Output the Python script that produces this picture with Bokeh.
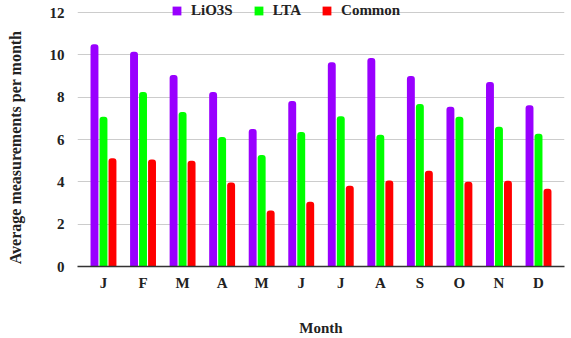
from bokeh.plotting import figure
from bokeh.models import ColumnDataSource, Range1d, FixedTicker, Legend, LegendItem
from bokeh.transform import dodge
from bokeh.embed import file_html
from bokeh.resources import INLINE

months = ["J", "F", "M", "A", "M", "J", "J", "A", "S", "O", "N", "D"]
lio3s = [10.5, 10.15, 9.05, 8.25, 6.5, 7.82, 9.65, 9.85, 9.0, 7.55, 8.72, 7.62]
lta = [7.07, 8.25, 7.3, 6.12, 5.27, 6.36, 7.1, 6.22, 7.68, 7.08, 6.6, 6.27]
common = [5.12, 5.05, 5.0, 3.97, 2.65, 3.06, 3.82, 4.06, 4.52, 4.0, 4.05, 3.67]

idx = list(range(len(months)))
src = ColumnDataSource(dict(x=idx, lio3s=lio3s, lta=lta, common=common))

FONT = "'Liberation Serif'"
FONT_LEG = "Liberation Serif"

p = figure(width=571, height=338, output_backend="svg", toolbar_location=None,
           x_range=Range1d(-0.657, 11.657), y_range=Range1d(0, 12.567),
           min_border_left=77, min_border_right=7, min_border_top=0, min_border_bottom=72)
p.outline_line_color = None

colors = ["#9900ff", "#00ff00", "#ff0000"]
names = ["LiO3S", "LTA", "Common"]
fields = ["lio3s", "lta", "common"]
offsets = [-0.2275, 0.0, 0.2275]
renderers = []
for f, c, o in zip(fields, colors, offsets):
    r = p.vbar(x=dodge("x", o), top=f, width=0.2, source=src, fill_color=c,
               line_color=None, border_radius=(3, 3, 0, 0))
    renderers.append(r)

p.xaxis.ticker = FixedTicker(ticks=idx)
p.xaxis.major_label_overrides = {i: m for i, m in enumerate(months)}
p.yaxis.ticker = FixedTicker(ticks=[0, 2, 4, 6, 8, 10, 12])

for ax in (p.xaxis[0], p.yaxis[0]):
    ax.major_tick_line_color = None
    ax.minor_tick_line_color = None
    ax.major_label_text_font = FONT
    ax.major_label_text_font_style = "bold"
    ax.major_label_text_font_size = "15px"
    ax.major_label_text_color = "#222222"
    ax.axis_label_text_font = FONT
    ax.axis_label_text_font_style = "bold"
    ax.axis_label_text_font_size = "15px"
    ax.axis_label_text_color = "#222222"

p.xaxis.axis_label = "Month"
p.xaxis.axis_line_color = "#333333"
p.xaxis.axis_line_width = 1.5
p.xaxis.major_label_standoff = 2
p.xaxis.axis_label_standoff = 26
p.yaxis.axis_label = "Average measurements per month" + "\u00a0" * 7
p.yaxis.axis_label_text_font_size = "16px"
p.yaxis.axis_line_color = None
p.yaxis.major_label_standoff = 7
p.yaxis.axis_label_standoff = 23

p.xgrid.grid_line_color = None
p.ygrid.grid_line_color = "#cccccc"

legend = Legend(items=[LegendItem(label=n, renderers=[r]) for n, r in zip(names, renderers)],
                orientation="horizontal", location=(94, 247), padding=0, margin=0,
                spacing=20, label_standoff=9, glyph_width=11, glyph_height=11,
                background_fill_alpha=0, border_line_color=None)
legend.label_text_font = FONT_LEG
legend.label_text_font_style = "bold"
legend.label_text_font_size = "15px"
legend.label_text_color = "#222222"
p.add_layout(legend, "center")

open("out.html", "w").write(file_html(p, INLINE))
